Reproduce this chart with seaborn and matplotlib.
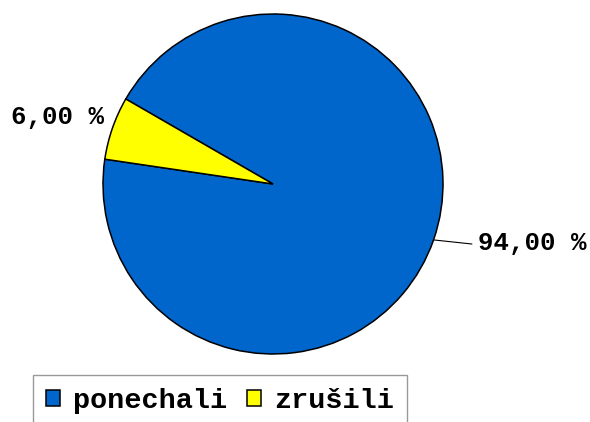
import numpy as np
import matplotlib
matplotlib.use("Agg")
import matplotlib.pyplot as plt
import seaborn as sns

# data
categories = ["ponechali", "zrušili"]
shares = [94.0, 6.0]
colors = ["#0066CC", "#FFFF00"]
label_texts = ["94,00 %", "6,00 %"]

sns.set_theme(style="white")
plt.rcParams["font.family"] = ["Liberation Mono", "DejaVu Sans Mono"]
plt.rcParams["font.weight"] = "bold"
plt.rcParams["text.color"] = "black"

W, H = 590, 422
cx, cy, R = 273, 184, 170  # pie centre / radius in pixels

fig = plt.figure(figsize=(W / 100, H / 100), dpi=100)
ax = fig.add_axes([0, 0, 1, 1])

wedges, _ = ax.pie(shares, colors=colors, startangle=171.6, counterclock=True,
                   wedgeprops=dict(edgecolor="black", linewidth=1.1))
ax.set_xlim(-cx / R, (W - cx) / R)
ax.set_ylim(-(H - cy) / R, cy / R)
ax.axis("off")

# value labels
w0 = wedges[0]
mid = np.deg2rad((w0.theta1 + w0.theta2) / 2)
p = (np.cos(mid), np.sin(mid))
ax.plot([p[0], 1.17], [p[1], -0.353], color="black", lw=0.8)
ax.text(1.205, -0.345, label_texts[0], ha="left", va="center",
        fontsize=18.5, fontweight="bold", color="black")

w1 = wedges[1]
mid = np.deg2rad((w1.theta1 + w1.theta2) / 2)
ax.text(np.cos(mid) - 0.05, np.sin(mid) + 0.065, label_texts[1], ha="right",
        va="center", fontsize=18.5, fontweight="bold", color="black")

leg = fig.legend(wedges, categories, loc="upper left",
                 bbox_to_anchor=(33 / W, 1 - 375 / H), ncol=2,
                 prop=dict(family="Liberation Mono", weight="bold", size=20.5),
                 handlelength=0.5, handleheight=0.5, handletextpad=0.45,
                 columnspacing=0.7, borderpad=0.45, borderaxespad=0,
                 fancybox=False, frameon=True, edgecolor="#808080",
                 labelcolor="black")
leg.get_frame().set_linewidth(1.0)

fig.savefig("out.png", dpi=100)
